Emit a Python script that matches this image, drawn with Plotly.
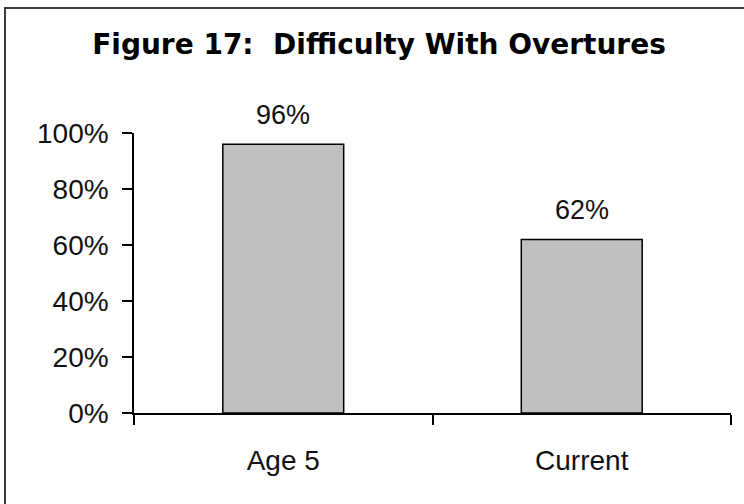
import plotly.graph_objects as go

categories = ["Age 5", "Current"]
values = [0.96, 0.62]
y_ticks = [0, 0.2, 0.4, 0.6, 0.8, 1.0]
title_text = "Figure 17:&nbsp; Difficulty With Overtures"

W, H = 744, 504
L, R, T, B = 134, 13, 133, 91
pw, ph = W - L - R, H - T - B

def px_x(px):
    return (px - L) / pw

def px_y(py):
    return (H - B - py) / ph

fig = go.Figure()
fig.add_trace(go.Bar(
    x=categories, y=values,
    marker=dict(color="#c0c0c0", line=dict(color="#000000", width=1.5)),
    hoverinfo="skip",
))

for c, v in zip(categories, values):
    fig.add_annotation(x=c, y=v, text=f"{round(v*100)}%", showarrow=False,
                       yanchor="bottom", yshift=12,
                       font=dict(family="Liberation Sans, Arial", size=27, color="#111"))

fig.add_shape(type="rect", xref="paper", yref="paper",
              x0=px_x(5), x1=px_x(770), y0=px_y(530), y1=px_y(8),
              line=dict(color="#3a3a3a", width=2), fillcolor="rgba(0,0,0,0)", layer="below")

fig.update_layout(
    width=W, height=H,
    margin=dict(l=L, r=R, t=T, b=B),
    paper_bgcolor="#ffffff", plot_bgcolor="#ffffff",
    bargap=0.595,
    showlegend=False,
    title=dict(text=title_text, x=379 / W, xanchor="center", xref="container",
               y=1 - 44 / H, yanchor="middle", yref="container",
               font=dict(family="DejaVu Sans", size=28, color="#000", weight="bold")),
    font=dict(family="Liberation Sans, Arial", size=28, color="#111"),
)
fig.update_yaxes(range=[0, 1], tickvals=y_ticks, tickformat=".0%",
                 showgrid=False, zeroline=False,
                 showline=True, linecolor="#000", linewidth=1.5,
                 ticks="outside", ticklen=10, tickcolor="#000", tickwidth=1.5,
                 ticklabelstandoff=8,
                 tickfont=dict(family="Liberation Sans, Arial", size=28, color="#111"))
fig.update_xaxes(showgrid=False, zeroline=False,
                 showline=True, linecolor="#000", linewidth=1.5,
                 ticks="outside", ticklen=10, tickcolor="#000", tickwidth=1.5,
                 tickson="boundaries", ticklabelstandoff=22,
                 tickfont=dict(family="Liberation Sans, Arial", size=28, color="#111"))

fig.write_html("out.html", config={"displayModeBar": False},
               post_script="document.body.style.margin='0';")
